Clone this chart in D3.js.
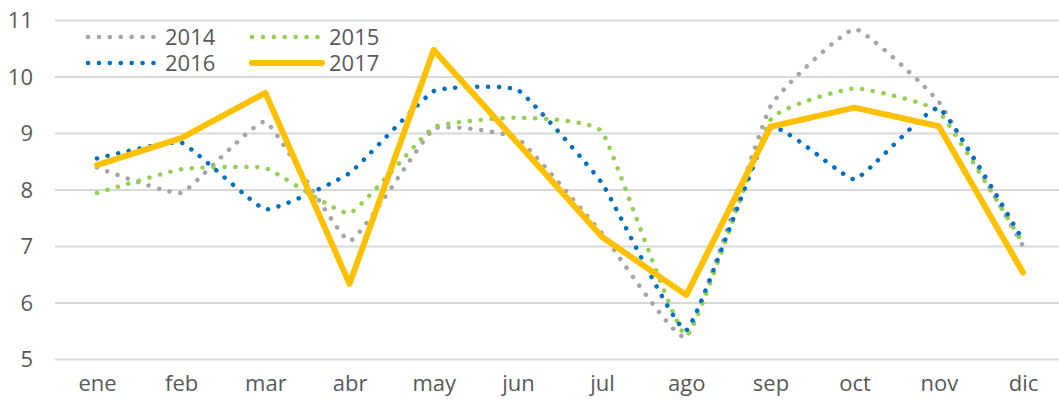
<!DOCTYPE html>
<html>
<head>
<meta charset="utf-8">
<script src="https://cdn.jsdelivr.net/npm/d3@7"></script>
<style>
  body { margin: 0; background: #fff; }
  text { font-family: "Open Sans", sans-serif; fill: #595959; }
</style>
</head>
<body>
<div class="chart"></div>
<script>
var months = ["ene", "feb", "mar", "abr", "may", "jun", "jul", "ago", "sep", "oct", "nov", "dic"];
var yTicks = [5, 6, 7, 8, 9, 10, 11];
var v2014 = [8.39, 7.94, 9.20, 7.09, 9.07, 8.90, 7.22, 5.39, 9.47, 10.84, 9.55, 7.00];
var v2015 = [7.94, 8.36, 8.38, 7.58, 9.10, 9.27, 9.02, 5.41, 9.23, 9.79, 9.38, 7.05];
var v2016 = [8.55, 8.83, 7.65, 8.29, 9.74, 9.76, 8.11, 5.51, 9.08, 8.18, 9.44, 7.10];
var v2017 = [8.43, 8.91, 9.71, 6.33, 10.47, 8.82, 7.16, 6.13, 9.11, 9.45, 9.12, 6.53];

var series = [
  {name: "2014", values: v2014, color: "#a5a5a5", dotted: true},
  {name: "2015", values: v2015, color: "#92d050", dotted: true},
  {name: "2016", values: v2016, color: "#0070c0", dotted: true},
  {name: "2017", values: v2017, color: "#ffc000", dotted: false}
];

var svg = d3.select(".chart").append("svg")
    .attr("width", 1059)
    .attr("height", 405);

var x = d3.scalePoint()
    .domain(months)
    .range([97, 1023]);

var y = d3.scaleLinear()
    .domain([5, 11])
    .range([359, 20]);

// gridlines + y labels
var yAxis = svg.append("g")
    .attr("transform", "translate(55,0)")
    .call(d3.axisLeft(y).tickValues(yTicks).tickFormat(d3.format("d"))
      .tickSize(-1004).tickPadding(22));
yAxis.select(".domain").remove();
yAxis.selectAll("line")
    .style("stroke", "#d9d9d9")
    .style("stroke-width", "2px");
yAxis.selectAll("text")
    .style("font-size", "22px")
    .attr("font-family", null)
    .attr("dy", "0.35em");

// x labels
var xAxis = svg.append("g")
    .attr("transform", "translate(0,359)")
    .call(d3.axisBottom(x).tickSize(0).tickPadding(16));
xAxis.select(".domain").remove();
xAxis.selectAll("text")
    .style("font-size", "22px")
    .attr("font-family", null)
    .attr("dy", "0.71em");

// excel-ish smoothing, fairly tight
var smooth = d3.line()
    .x(function(d, i) { return x(months[i]); })
    .y(function(d) { return y(d); })
    .curve(d3.curveCardinal.tension(0.65));

var straight = d3.line()
    .x(function(d, i) { return x(months[i]); })
    .y(function(d) { return y(d); });

series.forEach(function(s) {
  var p = svg.append("path")
      .attr("d", s.dotted ? smooth(s.values) : straight(s.values))
      .style("fill", "none")
      .style("stroke", s.color)
      .style("stroke-linecap", "round")
      .style("stroke-linejoin", "round");
  if (s.dotted) {
    p.style("stroke-width", "4.5px").style("stroke-dasharray", "0.1,10.8");
  } else {
    p.style("stroke-width", "6px");
  }
});

// legend
var legend = svg.append("g");
series.forEach(function(s, i) {
  var lx = (i % 2) * 164 + 88;
  var ly = Math.floor(i / 2) * 26 + 37;
  var g = legend.append("g").attr("transform", "translate(" + lx + "," + ly + ")");
  g.append("line")
      .attr("x1", 0)
      .attr("x2", 70)
      .style("stroke", s.color)
      .style("stroke-linecap", "round")
      .style("stroke-width", s.dotted ? "4.5px" : "6px")
      .style("stroke-dasharray", s.dotted ? "0.1,10.8" : null);
  g.append("text")
      .attr("x", 77)
      .attr("dy", "0.36em")
      .style("font-size", "22px")
      .text(s.name);
});
</script>
</body>
</html>
